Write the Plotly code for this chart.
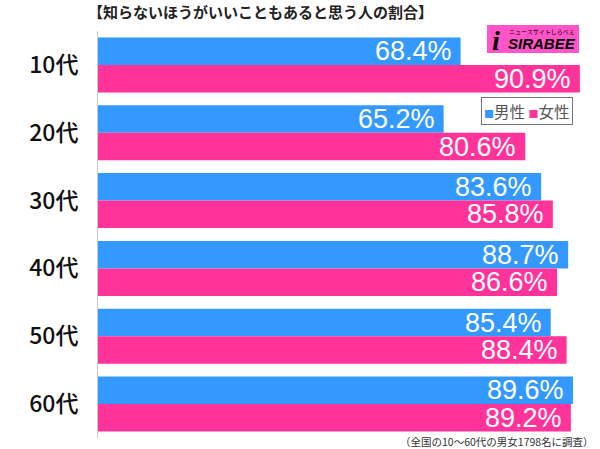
import plotly.graph_objects as go

categories = ["10代", "20代", "30代", "40代", "50代", "60代"]
male = [68.4, 65.2, 83.6, 88.7, 85.4, 89.6]
female = [90.9, 80.6, 85.8, 86.6, 88.4, 89.2]
series_names = ["男性", "女性"]
title_text = "【知らないほうがいいこともあると思う人の割合】"
note_text = "（全国の10～60代の男女1798名に調査）"

BLUE = "#3399FF"
PINK = "#FF3399"
JP = "Noto Sans CJK JP"

W, H = 600, 449
ML, MR, MT, MB = 98, 0, 31, 11


def pxx(px):
    return (px - ML) / (W - ML - MR)


def py(px):
    return (H - MB - px) / (H - MT - MB)


fig = go.Figure()
fig.add_trace(go.Bar(y=categories, x=male, name=series_names[0], orientation="h",
                     marker=dict(color=BLUE, line=dict(width=0)), hoverinfo="skip"))
fig.add_trace(go.Bar(y=categories, x=female, name=series_names[1], orientation="h",
                     marker=dict(color=PINK, line=dict(width=0)), hoverinfo="skip"))

BAR_PX = 27.5
annotations = []
for vals, shift in ((male, BAR_PX / 2), (female, -BAR_PX / 2)):
    for c, v in zip(categories, vals):
        annotations.append(dict(x=v, y=c, xref="x", yref="y", text=f"{v:.1f}%",
                                showarrow=False, xanchor="right", yanchor="middle",
                                xshift=-7, yshift=shift,
                                font=dict(family="Liberation Sans", size=27, color="white")))

annotations.append(dict(x=pxx(86), y=py(12), xref="paper", yref="paper", text="<b>" + title_text + "</b>",
                        showarrow=False, xanchor="left", yanchor="middle",
                        font=dict(family=JP, size=15, color="#222222")))
annotations.append(dict(x=pxx(596), y=py(441), xref="paper", yref="paper", text=note_text,
                        showarrow=False, xanchor="right", yanchor="middle",
                        font=dict(family=JP, size=10.5, color="#333333")))
# legend drawn as a boxed text line
legend_text = (f"<span style='color:{BLUE};font-size:10px'>■</span>{series_names[0]}\u00a0"
               f"<span style='color:{PINK};font-size:10px'>■</span>{series_names[1]}")
annotations.append(dict(x=pxx(527), y=py(111), xref="paper", yref="paper", text=legend_text,
                        showarrow=False, xanchor="center", yanchor="middle",
                        bordercolor="#777777", borderwidth=1, borderpad=2, bgcolor="white",
                        font=dict(family=JP, size=15.5, color="#555555")))
# logo
annotations.append(dict(x=pxx(506), y=py(43), xref="paper", yref="paper", text="<b><i>SIRABEE</i></b>",
                        showarrow=False, xanchor="left", yanchor="middle",
                        font=dict(family="Liberation Sans", size=15, color="black")))
annotations.append(dict(x=pxx(577), y=py(31), xref="paper", yref="paper", text="ニュースサイトしらべぇ",
                        showarrow=False, xanchor="right", yanchor="middle",
                        font=dict(family=JP, size=6, color="black")))
annotations.append(dict(x=pxx(496), y=py(40), xref="paper", yref="paper", text="<b><i>i</i></b>",
                        showarrow=False, xanchor="center", yanchor="middle",
                        font=dict(family="Liberation Serif", size=28, color="black")))

fig.add_shape(type="rect", xref="paper", yref="paper", x0=pxx(487), x1=pxx(579), y0=py(53), y1=py(25),
              fillcolor="#FF55C8", line=dict(width=0), layer="below")

fig.update_layout(
    width=W, height=H,
    margin=dict(l=ML, r=MR, t=MT, b=MB, autoexpand=False),
    paper_bgcolor="white", plot_bgcolor="white",
    barmode="group", bargap=0.19, bargroupgap=0,
    showlegend=False,
    annotations=annotations,
    xaxis=dict(range=[0, 94.7], showgrid=False, showticklabels=False, zeroline=False,
               showline=False, fixedrange=True),
    yaxis=dict(autorange="reversed", showgrid=False, showline=True, linecolor="#cccccc",
               linewidth=1, ticks="", ticklabelstandoff=14, fixedrange=True,
               tickfont=dict(family=JP, size=23, color="#111111", weight=500)),
)

fig.write_html("out.html", config={"displayModeBar": False},
               post_script="document.body.style.margin='0';")
